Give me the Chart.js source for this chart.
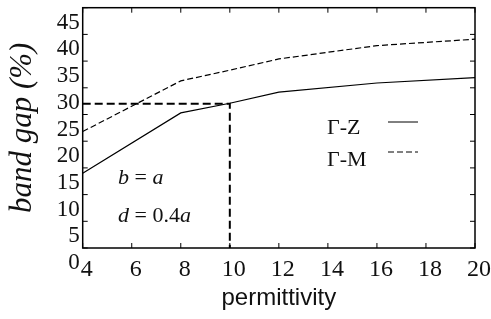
<!DOCTYPE html>
<html>
<head>
<meta charset="utf-8">
<script src="https://cdn.jsdelivr.net/npm/chart.js@4/dist/chart.umd.min.js"></script>
<style>
  html, body { margin: 0; padding: 0; background: #fff; }
  #wrap { width: 491px; height: 319px; }
</style>
</head>
<body>
<div id="wrap"><canvas id="canvas"></canvas></div>
<script>
// dados
var permittivity = [4, 8, 10, 12, 16, 20];
var gapGammaZ = [14.0, 25.3, 27.1, 29.2, 30.9, 31.9];
var gapGammaM = [21.8, 31.3, 33.3, 35.4, 37.9, 39.1];
var seriesLabels = ['Γ-Z', 'Γ-M'];
// linha de referencia tracejada (epsilon = 10)
var refX = [4, 10, 10];
var refY = [27, 27, 0];
var xTicks = [4, 6, 8, 10, 12, 14, 16, 18, 20];
var yTicks = [0, 5, 10, 15, 20, 25, 30, 35, 40, 45];
var notes = [['b', ' = ', 'a'], ['d', ' = 0.4', 'a']];

var SERIF = 'Liberation Serif';
var SANS = 'Liberation Sans';

var toPoints = function (xs, ys) {
  return xs.map(function (x, i) { return { x: x, y: ys[i] }; });
};

Chart.defaults.font.family = SERIF;
Chart.defaults.color = '#111';

// moldura, ticks para dentro, legenda e anotacoes
var framePlugin = {
  id: 'frame',
  afterDraw: function (chart) {
    var ctx = chart.ctx;
    var a = chart.chartArea;
    var xs = chart.scales.x, ys = chart.scales.y;
    ctx.save();
    ctx.strokeStyle = '#000';
    ctx.lineWidth = 1.5;
    ctx.setLineDash([]);
    ctx.strokeRect(a.left, a.top, a.right - a.left, a.bottom - a.top);
    ctx.lineWidth = 1;
    var len = 5;
    xTicks.forEach(function (v) {
      var px = xs.getPixelForValue(v);
      ctx.beginPath();
      ctx.moveTo(px, a.bottom); ctx.lineTo(px, a.bottom - len);
      ctx.moveTo(px, a.top); ctx.lineTo(px, a.top + len);
      ctx.stroke();
    });
    yTicks.forEach(function (v) {
      var py = ys.getPixelForValue(v);
      ctx.beginPath();
      ctx.moveTo(a.left, py); ctx.lineTo(a.left + len, py);
      ctx.moveTo(a.right, py); ctx.lineTo(a.right - len, py);
      ctx.stroke();
    });

    // legenda: texto a esquerda, amostra da linha a direita
    ctx.font = '22px "' + SERIF + '"';
    ctx.fillStyle = '#111';
    ctx.textBaseline = 'alphabetic';
    ctx.textAlign = 'left';
    for (var i = 0; i < 2; i++) {
      var ds = chart.data.datasets[i];
      ctx.fillText(ds.label, 327, 134 + i * 32);
      ctx.beginPath();
      ctx.lineWidth = 1;
      ctx.setLineDash(ds.borderDash || []);
      ctx.moveTo(388, 122 + i * 30);
      ctx.lineTo(418, 122 + i * 30);
      ctx.stroke();
    }
    ctx.setLineDash([]);

    // anotacoes b = a, d = 0.4a
    notes.forEach(function (parts, k) {
      var x = 118, y = 184 + k * 38;
      parts.forEach(function (p, j) {
        ctx.font = (j === 1 ? '' : 'italic ') + '22px "' + SERIF + '"';
        ctx.fillText(p, x, y);
        x += ctx.measureText(p).width;
      });
    });
    ctx.restore();
  }
};

var ctx = document.getElementById('canvas').getContext('2d');
window.gapChart = new Chart(ctx, {
  type: 'line',
  data: {
    datasets: [{
      label: seriesLabels[0],
      data: toPoints(permittivity, gapGammaZ),
      borderColor: '#000',
      borderWidth: 1.2,
      pointRadius: 0,
      tension: 0
    }, {
      label: seriesLabels[1],
      data: toPoints(permittivity, gapGammaM),
      borderColor: '#000',
      borderWidth: 1.2,
      borderDash: [6, 3],
      pointRadius: 0,
      tension: 0
    }, {
      label: 'ref',
      data: toPoints(refX, refY),
      borderColor: '#000',
      borderWidth: 2,
      borderDash: [8, 4],
      pointRadius: 0,
      tension: 0
    }]
  },
  options: {
    responsive: true,
    maintainAspectRatio: false,
    animation: false,
    layout: { padding: { top: 7.7, right: 16, left: 0, bottom: 0 } },
    plugins: {
      legend: { display: false },
      tooltip: { enabled: false }
    },
    scales: {
      x: {
        type: 'linear',
        min: 4,
        max: 20,
        grid: { display: false, drawTicks: false },
        border: { display: false },
        ticks: {
          stepSize: 2,
          autoSkip: false,
          maxRotation: 0,
          padding: 7,
          labelOffset: 4,
          color: '#111',
          font: { family: SERIF, size: 24 }
        },
        title: {
          display: true,
          text: 'permittivity',
          color: '#111',
          font: { family: SANS, size: 24, lineHeight: 1 },
          padding: { top: 0, bottom: 9 }
        },
        afterFit: function (s) {
          s.height = 71;
          s.paddingLeft = 0;
          s.paddingRight = 0;
        }
      },
      y: {
        min: 0,
        max: 45,
        grid: { display: false, drawTicks: false },
        border: { display: false },
        ticks: {
          stepSize: 5,
          autoSkip: false,
          padding: 3,
          labelOffset: 15,
          color: '#111',
          font: { family: SERIF, size: 23 }
        },
        title: {
          display: true,
          text: 'band gap (%)',
          color: '#111',
          font: { family: SERIF, size: 31, style: 'italic', lineHeight: 1 },
          padding: { top: 7.5, bottom: 0 }
        },
        afterFit: function (s) {
          s.width = 82.7;
          s.paddingTop = 0;
          s.paddingBottom = 0;
        }
      }
    }
  },
  plugins: [framePlugin]
});
</script>
</body>
</html>
